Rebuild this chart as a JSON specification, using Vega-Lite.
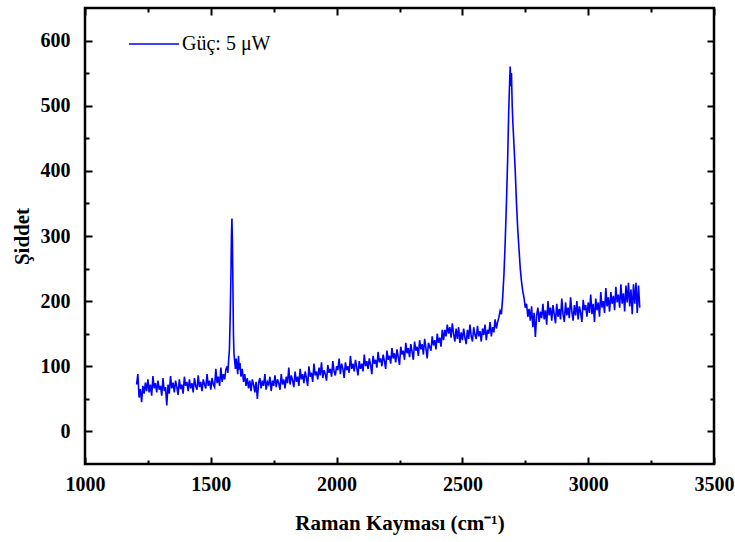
{
  "$schema": "https://vega.github.io/schema/vega-lite/v6.json",
  "width": 629,
  "height": 456,
  "autosize": {"type": "none"},
  "padding": {"left": 85, "top": 8, "right": 21, "bottom": 78},
  "background": "white",
  "config": {
    "view": {"stroke": "black", "strokeWidth": 2.5},
    "axis": {
      "domain": false,
      "grid": false,
      "tickColor": "black",
      "tickWidth": 2,
      "labelFont": "Liberation Serif, Times New Roman, serif",
      "labelFontWeight": "bold",
      "labelFontSize": 20,
      "labelColor": "black",
      "titleFont": "Liberation Serif, Times New Roman, serif",
      "titleFontWeight": "bold",
      "titleFontSize": 21,
      "titleColor": "black",
      "labelOverlap": false,
      "labelFlush": false
    }
  },
  "data": {"values": [
{"s":1205,"i":72},{"s":1210,"i":88},{"s":1215,"i":52},{"s":1220,"i":65},{"s":1225,"i":45},{"s":1230,"i":70},{"s":1235,"i":58},{"s":1240,"i":75},{"s":1245,"i":62},{"s":1250,"i":80},
{"s":1255,"i":60},{"s":1260,"i":72},{"s":1265,"i":55},{"s":1270,"i":85},{"s":1275,"i":66},{"s":1280,"i":74},{"s":1285,"i":60},{"s":1290,"i":78},{"s":1295,"i":64},{"s":1300,"i":70},
{"s":1305,"i":55},{"s":1310,"i":82},{"s":1315,"i":62},{"s":1320,"i":68},{"s":1325,"i":40},{"s":1330,"i":72},{"s":1335,"i":58},{"s":1340,"i":85},{"s":1345,"i":66},{"s":1350,"i":75},
{"s":1355,"i":60},{"s":1360,"i":78},{"s":1365,"i":68},{"s":1370,"i":56},{"s":1375,"i":80},{"s":1380,"i":65},{"s":1385,"i":72},{"s":1390,"i":58},{"s":1395,"i":84},{"s":1400,"i":70},
{"s":1405,"i":76},{"s":1410,"i":62},{"s":1415,"i":80},{"s":1420,"i":66},{"s":1425,"i":74},{"s":1430,"i":60},{"s":1435,"i":82},{"s":1440,"i":70},{"s":1445,"i":64},{"s":1450,"i":86},
{"s":1455,"i":68},{"s":1460,"i":76},{"s":1465,"i":62},{"s":1470,"i":80},{"s":1475,"i":72},{"s":1480,"i":66},{"s":1485,"i":88},{"s":1490,"i":70},{"s":1495,"i":78},{"s":1500,"i":64},
{"s":1505,"i":82},{"s":1510,"i":72},{"s":1515,"i":68},{"s":1520,"i":96},{"s":1525,"i":74},{"s":1530,"i":84},{"s":1535,"i":70},{"s":1540,"i":98},{"s":1545,"i":76},{"s":1550,"i":88},
{"s":1555,"i":80},{"s":1560,"i":95},{"s":1565,"i":100},{"s":1568,"i":90},{"s":1571,"i":110},{"s":1574,"i":125},{"s":1577,"i":175},{"s":1580,"i":240},{"s":1582,"i":300},{"s":1584,"i":327},
{"s":1586,"i":290},{"s":1588,"i":220},{"s":1590,"i":150},{"s":1592,"i":120},{"s":1595,"i":108},{"s":1598,"i":96},{"s":1601,"i":112},{"s":1604,"i":100},{"s":1607,"i":88},{"s":1610,"i":116},
{"s":1613,"i":95},{"s":1616,"i":105},{"s":1620,"i":84},{"s":1625,"i":96},{"s":1630,"i":76},{"s":1635,"i":88},{"s":1640,"i":70},{"s":1645,"i":82},{"s":1650,"i":66},{"s":1655,"i":78},
{"s":1660,"i":62},{"s":1665,"i":80},{"s":1670,"i":72},{"s":1675,"i":60},{"s":1680,"i":76},{"s":1685,"i":50},{"s":1690,"i":74},{"s":1695,"i":82},{"s":1700,"i":66},{"s":1705,"i":78},
{"s":1710,"i":70},{"s":1715,"i":88},{"s":1720,"i":64},{"s":1725,"i":76},{"s":1730,"i":72},{"s":1735,"i":84},{"s":1740,"i":62},{"s":1745,"i":78},{"s":1750,"i":70},{"s":1755,"i":86},
{"s":1760,"i":68},{"s":1765,"i":80},{"s":1770,"i":74},{"s":1775,"i":64},{"s":1780,"i":88},{"s":1785,"i":72},{"s":1790,"i":80},{"s":1795,"i":66},{"s":1800,"i":84},{"s":1805,"i":74},
{"s":1810,"i":98},{"s":1815,"i":72},{"s":1820,"i":86},{"s":1825,"i":78},{"s":1830,"i":68},{"s":1835,"i":92},{"s":1840,"i":76},{"s":1845,"i":84},{"s":1850,"i":70},{"s":1855,"i":96},
{"s":1860,"i":80},{"s":1865,"i":88},{"s":1870,"i":74},{"s":1875,"i":92},{"s":1880,"i":82},{"s":1885,"i":70},{"s":1890,"i":100},{"s":1895,"i":84},{"s":1900,"i":90},{"s":1905,"i":76},
{"s":1910,"i":104},{"s":1915,"i":86},{"s":1920,"i":92},{"s":1925,"i":80},{"s":1930,"i":98},{"s":1935,"i":86},{"s":1940,"i":106},{"s":1945,"i":82},{"s":1950,"i":94},{"s":1955,"i":88},
{"s":1960,"i":78},{"s":1965,"i":102},{"s":1970,"i":90},{"s":1975,"i":96},{"s":1980,"i":84},{"s":1985,"i":108},{"s":1990,"i":92},{"s":1995,"i":86},{"s":2000,"i":100},{"s":2005,"i":94},
{"s":2010,"i":112},{"s":2015,"i":88},{"s":2020,"i":104},{"s":2025,"i":96},{"s":2030,"i":82},{"s":2035,"i":106},{"s":2040,"i":94},{"s":2045,"i":100},{"s":2050,"i":90},{"s":2055,"i":116},
{"s":2060,"i":96},{"s":2065,"i":104},{"s":2070,"i":92},{"s":2075,"i":110},{"s":2080,"i":98},{"s":2085,"i":86},{"s":2090,"i":108},{"s":2095,"i":96},{"s":2100,"i":104},{"s":2105,"i":92},
{"s":2110,"i":118},{"s":2115,"i":100},{"s":2120,"i":108},{"s":2125,"i":96},{"s":2130,"i":112},{"s":2135,"i":102},{"s":2140,"i":88},{"s":2145,"i":116},{"s":2150,"i":104},{"s":2155,"i":110},
{"s":2160,"i":98},{"s":2165,"i":122},{"s":2170,"i":106},{"s":2175,"i":112},{"s":2180,"i":100},{"s":2185,"i":118},{"s":2190,"i":108},{"s":2195,"i":96},{"s":2200,"i":124},{"s":2205,"i":110},
{"s":2210,"i":116},{"s":2215,"i":104},{"s":2220,"i":128},{"s":2225,"i":112},{"s":2230,"i":120},{"s":2235,"i":106},{"s":2240,"i":126},{"s":2245,"i":114},{"s":2250,"i":102},{"s":2255,"i":130},
{"s":2260,"i":118},{"s":2265,"i":124},{"s":2270,"i":110},{"s":2275,"i":136},{"s":2280,"i":120},{"s":2285,"i":128},{"s":2290,"i":114},{"s":2295,"i":134},{"s":2300,"i":122},{"s":2305,"i":110},
{"s":2310,"i":138},{"s":2315,"i":124},{"s":2320,"i":130},{"s":2325,"i":116},{"s":2330,"i":140},{"s":2335,"i":126},{"s":2340,"i":134},{"s":2345,"i":118},{"s":2350,"i":142},{"s":2355,"i":128},
{"s":2360,"i":112},{"s":2365,"i":136},{"s":2370,"i":130},{"s":2375,"i":124},{"s":2380,"i":146},{"s":2385,"i":132},{"s":2390,"i":140},{"s":2395,"i":126},{"s":2400,"i":150},{"s":2405,"i":136},
{"s":2410,"i":144},{"s":2415,"i":130},{"s":2420,"i":156},{"s":2425,"i":140},{"s":2430,"i":156},{"s":2435,"i":146},{"s":2440,"i":164},{"s":2445,"i":150},{"s":2450,"i":160},{"s":2455,"i":144},
{"s":2460,"i":166},{"s":2465,"i":150},{"s":2470,"i":138},{"s":2475,"i":158},{"s":2480,"i":142},{"s":2485,"i":160},{"s":2490,"i":136},{"s":2495,"i":152},{"s":2500,"i":140},{"s":2505,"i":158},
{"s":2510,"i":144},{"s":2515,"i":134},{"s":2520,"i":156},{"s":2525,"i":142},{"s":2530,"i":164},{"s":2535,"i":146},{"s":2540,"i":138},{"s":2545,"i":160},{"s":2550,"i":148},{"s":2555,"i":142},
{"s":2560,"i":162},{"s":2565,"i":146},{"s":2570,"i":154},{"s":2575,"i":138},{"s":2580,"i":158},{"s":2585,"i":148},{"s":2590,"i":164},{"s":2595,"i":140},{"s":2600,"i":156},{"s":2605,"i":150},
{"s":2610,"i":168},{"s":2615,"i":146},{"s":2620,"i":160},{"s":2625,"i":152},{"s":2630,"i":172},{"s":2635,"i":158},{"s":2640,"i":168},{"s":2645,"i":175},{"s":2650,"i":185},{"s":2655,"i":180},
{"s":2660,"i":205},{"s":2665,"i":240},{"s":2670,"i":290},{"s":2675,"i":350},{"s":2680,"i":420},{"s":2684,"i":490},{"s":2688,"i":540},{"s":2690,"i":560},{"s":2692,"i":530},{"s":2695,"i":550},
{"s":2698,"i":500},{"s":2701,"i":470},{"s":2705,"i":440},{"s":2710,"i":400},{"s":2715,"i":350},{"s":2720,"i":310},{"s":2725,"i":280},{"s":2730,"i":250},{"s":2735,"i":230},{"s":2740,"i":215},
{"s":2745,"i":205},{"s":2750,"i":190},{"s":2755,"i":196},{"s":2760,"i":176},{"s":2765,"i":188},{"s":2770,"i":170},{"s":2775,"i":192},{"s":2780,"i":160},{"s":2785,"i":182},{"s":2790,"i":145},
{"s":2795,"i":178},{"s":2800,"i":190},{"s":2805,"i":168},{"s":2810,"i":184},{"s":2815,"i":174},{"s":2820,"i":196},{"s":2825,"i":172},{"s":2830,"i":186},{"s":2835,"i":164},{"s":2840,"i":200},
{"s":2845,"i":178},{"s":2850,"i":190},{"s":2855,"i":170},{"s":2860,"i":194},{"s":2865,"i":180},{"s":2870,"i":166},{"s":2875,"i":196},{"s":2880,"i":176},{"s":2885,"i":188},{"s":2890,"i":172},
{"s":2895,"i":204},{"s":2900,"i":180},{"s":2905,"i":168},{"s":2910,"i":198},{"s":2915,"i":178},{"s":2920,"i":190},{"s":2925,"i":174},{"s":2930,"i":206},{"s":2935,"i":184},{"s":2940,"i":170},
{"s":2945,"i":194},{"s":2950,"i":178},{"s":2955,"i":200},{"s":2960,"i":172},{"s":2965,"i":192},{"s":2970,"i":182},{"s":2975,"i":168},{"s":2980,"i":202},{"s":2985,"i":186},{"s":2990,"i":194},
{"s":2995,"i":176},{"s":3000,"i":198},{"s":3005,"i":182},{"s":3010,"i":210},{"s":3015,"i":180},{"s":3020,"i":196},{"s":3025,"i":168},{"s":3030,"i":204},{"s":3035,"i":186},{"s":3040,"i":198},
{"s":3045,"i":176},{"s":3050,"i":214},{"s":3055,"i":190},{"s":3060,"i":200},{"s":3065,"i":182},{"s":3070,"i":220},{"s":3075,"i":192},{"s":3080,"i":206},{"s":3085,"i":184},{"s":3090,"i":214},
{"s":3095,"i":196},{"s":3100,"i":208},{"s":3105,"i":186},{"s":3110,"i":222},{"s":3115,"i":198},{"s":3120,"i":210},{"s":3125,"i":190},{"s":3130,"i":226},{"s":3135,"i":196},{"s":3140,"i":212},
{"s":3145,"i":184},{"s":3150,"i":224},{"s":3155,"i":198},{"s":3160,"i":228},{"s":3165,"i":192},{"s":3170,"i":218},{"s":3175,"i":180},{"s":3180,"i":226},{"s":3185,"i":196},{"s":3190,"i":228},
{"s":3195,"i":182},{"s":3200,"i":224},{"s":3205,"i":190}
  ]},
  "layer": [
    {
      "mark": {"type": "line", "strokeWidth": 1.6, "clip": true},
      "encoding": {
        "x": {
          "field": "s", "type": "quantitative",
          "scale": {"domain": [1000, 3500], "nice": false, "zero": false},
          "axis": {
            "orient": "bottom",
            "title": "Raman Kayması (cm⁻¹)",
            "values": [1000, 1250, 1500, 1750, 2000, 2250, 2500, 2750, 3000, 3250, 3500],
            "labelExpr": "datum.value % 500 === 0 ? datum.label : ''",
            "format": "d",
            "tickSize": {"condition": {"test": "datum.value % 500 === 0", "value": -7}, "value": -4},
            "labelPadding": 17,
            "titlePadding": 15
          }
        },
        "y": {
          "field": "i", "type": "quantitative",
          "scale": {"domain": [-50, 650], "nice": false, "zero": false},
          "axis": {
            "orient": "left",
            "title": "Şiddet",
            "values": [0, 50, 100, 150, 200, 250, 300, 350, 400, 450, 500, 550, 600],
            "labelExpr": "datum.value % 100 === 0 ? datum.label : ''",
            "format": "d",
            "tickSize": {"condition": {"test": "datum.value % 100 === 0", "value": -7}, "value": -4},
            "labelPadding": 22,
            "titlePadding": 8
          }
        },
        "color": {
          "datum": "Güç: 5 μW",
          "scale": {"range": ["#0000ff"]},
          "legend": {
            "title": null,
            "orient": "none",
            "legendX": 43,
            "legendY": 10,
            "symbolType": "stroke",
            "symbolSize": 2500,
            "symbolStrokeWidth": 1.5,
            "symbolStrokeColor": "#0000ff",
            "labelFont": "Liberation Serif, Times New Roman, serif",
            "labelFontSize": 20,
            "labelColor": "black",
            "labelOffset": 2
          }
        }
      }
    },
    {
      "mark": {"type": "line", "strokeOpacity": 0},
      "encoding": {
        "x": {
          "field": "s", "type": "quantitative",
          "scale": {"domain": [1000, 3500], "nice": false, "zero": false},
          "axis": {
            "orient": "top",
            "title": null,
            "labels": false,
            "values": [1000, 1250, 1500, 1750, 2000, 2250, 2500, 2750, 3000, 3250, 3500],
            "tickSize": {"condition": {"test": "datum.value % 500 === 0", "value": -7}, "value": -4}
          }
        },
        "y": {
          "field": "i", "type": "quantitative",
          "scale": {"domain": [-50, 650], "nice": false, "zero": false},
          "axis": {
            "orient": "right",
            "title": null,
            "labels": false,
            "values": [0, 50, 100, 150, 200, 250, 300, 350, 400, 450, 500, 550, 600],
            "tickSize": {"condition": {"test": "datum.value % 100 === 0", "value": -7}, "value": -4}
          }
        }
      }
    }
  ],
  "resolve": {"axis": {"x": "independent", "y": "independent"}}
}
